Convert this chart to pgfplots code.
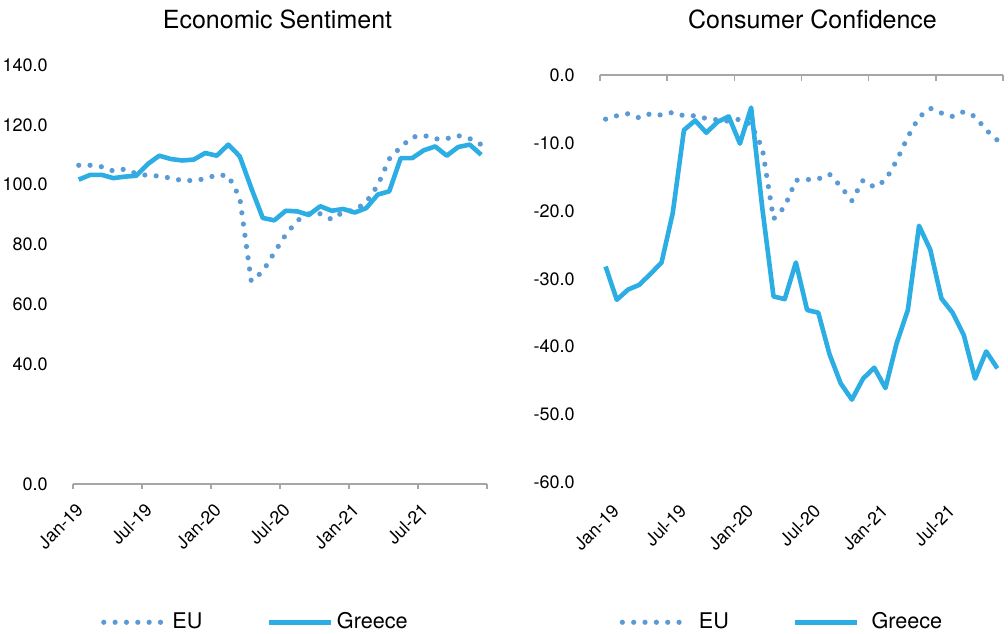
\documentclass[border=0pt]{standalone}
\usepackage{fontspec}
\setmainfont{TeX Gyre Heros}
\usepackage{pgfplots}
\usepackage{pgfplotstable}
\pgfplotsset{compat=1.18}

\definecolor{grc}{HTML}{2CAEE4}
\definecolor{euc}{HTML}{5B9BD5}
\definecolor{axgray}{HTML}{A6A6A6}

% month index (mid-month), EU, Greece
\pgfplotstableread{
x    eu     gr
0.5  106.5  101.7
1.5  106.5  103.3
2.5  106.0  103.3
3.5  104.6  102.2
4.5  105.2  102.7
5.5  103.7  103.0
6.5  103.1  106.9
7.5  102.9  109.7
8.5  102.2  108.6
9.5  101.4  108.1
10.5 101.4  108.4
11.5 102.0  110.6
12.5 103.3  109.7
13.5 103.0  113.4
14.5 95.7   109.5
15.5 67.8   98.9
16.5 71.0   88.9
17.5 77.3   88.1
18.5 83.3   91.3
19.5 88.0   91.1
20.5 90.3   89.9
21.5 90.3   92.8
22.5 88.4   91.3
23.5 90.9   91.9
24.5 91.5   90.7
25.5 94.2   92.2
26.5 99.8   96.7
27.5 108.6  97.8
28.5 112.6  108.9
29.5 115.9  108.9
30.5 116.5  111.5
31.5 115.3  112.8
32.5 115.4  109.7
33.5 116.4  112.6
34.5 115.4  113.4
35.5 113.4  110.0
}\esi

\pgfplotstableread{
x    eu     gr
0.5  -6.5   -28.2
1.5  -6.0   -33.1
2.5  -5.7   -31.6
3.5  -6.3   -30.9
4.5  -5.7   -29.3
5.5  -5.9   -27.6
6.5  -5.5   -20.3
7.5  -6.0   -8.1
8.5  -6.0   -6.7
9.5  -6.4   -8.5
10.5 -6.6   -6.9
11.5 -6.8   -6.1
12.5 -6.5   -10.1
13.5 -7.3   -4.8
14.5 -10.8  -19.6
15.5 -21.2  -32.6
16.5 -19.4  -33.0
17.5 -15.5  -27.6
18.5 -15.4  -34.6
19.5 -15.3  -35.0
20.5 -14.6  -41.1
21.5 -16.4  -45.4
22.5 -18.5  -47.8
23.5 -15.5  -44.7
24.5 -16.5  -43.1
25.5 -15.5  -46.1
26.5 -12.6  -39.5
27.5 -9.1   -34.6
28.5 -6.2   -22.2
29.5 -4.9   -25.7
30.5 -5.6   -32.9
31.5 -6.1   -35.0
32.5 -5.4   -38.3
33.5 -6.1   -44.7
34.5 -8.1   -40.7
35.5 -9.6   -43.2
}\cci

\pgfplotsset{
  panel/.style={
    scale only axis, clip=false,
    xmin=0, xmax=36, xtick={0,6,...,36},
    xticklabels={Jan-19,Jul-19,Jan-20,Jul-20,Jan-21,Jul-21,{}},
    axis y line=left, y axis line style={draw=none}, ytick style={draw=none},
    axis x line=bottom,
    tick align=outside, major tick length=2.5pt,
    ticklabel style={font=\fontsize{9}{11}\selectfont},
    yticklabel style={anchor=east, inner sep=0pt, xshift=-10pt,
      /pgf/number format/.cd, fixed, fixed zerofill, precision=1, assume math mode=true},
    legend columns=2, legend cell align=left,
    legend image code/.code={\draw[##1] (0pt,0pt) -- (31pt,0pt);},
    legend style={draw=none, fill=none, anchor=center,
      font=\fontsize{10.8}{12}\selectfont,
      /tikz/every even column/.append style={column sep=30pt}},
  },
  eus/.style={color=euc, line width=2.6pt, line cap=round, dash pattern=on 0pt off 5.67pt},
  grs/.style={color=grc, line width=2.3pt, line join=round},
}

\begin{document}
\begin{tikzpicture}
\useasboundingbox (0pt,0pt) rectangle (504pt,-316.5pt);

\node[font=\fontsize{12.5}{15}\selectfont, anchor=base] at (138.75pt,-14pt) {Economic Sentiment};
\node[font=\fontsize{12.5}{15}\selectfont, anchor=base] at (406.25pt,-14pt) {Consumer Confidence};

\begin{axis}[panel,
  at={(36.5pt,-242pt)}, anchor=south west,
  width=207pt, height=209.5pt,
  ymin=0, ymax=140, ytick={0,40,60,80,100,120,140},
  x axis line style={draw=axgray, line width=0.8pt, -},
  xtick style={draw=axgray, line width=0.8pt},
  xticklabel style={rotate=45, anchor=north east, inner sep=0pt,
    outer xsep=3.9pt, outer ysep=5.3pt},
  legend style={at={(0.443,-0.33)}},
  ]
\addplot[eus] table[x=x, y=eu] {\esi};
\addlegendentry{EU}
\addplot[grs] table[x=x, y=gr] {\esi};
\addlegendentry{Greece}
\end{axis}

\begin{axis}[panel,
  at={(300pt,-241.25pt)}, anchor=south west,
  width=201.5pt, height=203.75pt,
  ymin=-60, ymax=0, ytick={-60,-50,...,0},
  x axis line style={draw=none},
  xtick style={draw=none},
  xticklabel style={rotate=45, anchor=north east, inner sep=0pt,
    outer xsep=1.75pt, outer ysep=9.5pt},
  legend style={at={(0.454,-0.343)},
    /tikz/every odd column/.append style={column sep=4pt}},
  ]
\draw[axgray, line width=0.8pt] (axis cs:0,0) -- (axis cs:36,0);
\pgfplotsinvokeforeach{0,6,12,18,24,30,36}{
  \draw[axgray, line width=0.8pt] (axis cs:#1,0) -- ++(0pt,-3pt);
}
\addplot[eus] table[x=x, y=eu] {\cci};
\addlegendentry{EU}
\addplot[grs] table[x=x, y=gr] {\cci};
\addlegendentry{Greece}
\end{axis}
\end{tikzpicture}
\end{document}
